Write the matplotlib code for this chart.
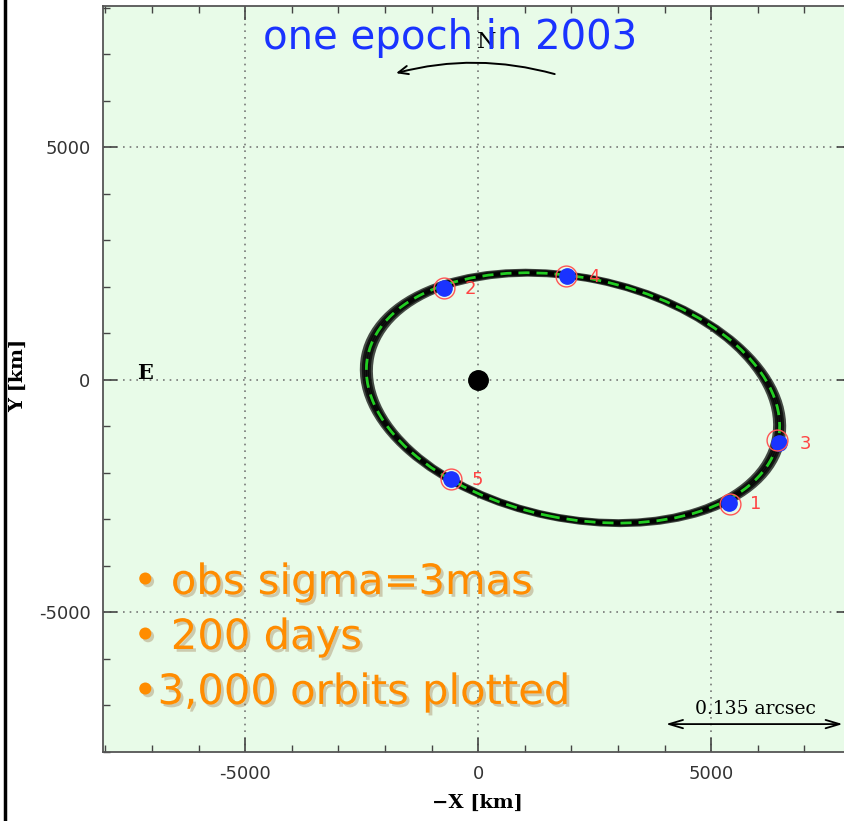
import matplotlib
matplotlib.use("Agg")
import matplotlib.pyplot as plt
import matplotlib.patheffects as pe
from matplotlib.patches import Ellipse, FancyArrowPatch
from matplotlib.lines import Line2D
from matplotlib.ticker import MultipleLocator

plt.rcParams["axes.unicode_minus"] = False

# ---------------------------------------------------------------------------
# Data
# ---------------------------------------------------------------------------
# best-fit relative orbit (km): centre, full axes, position angle (deg)
orbit_center = (2035, -387)
orbit_width = 8990
orbit_height = 5176
orbit_angle = -11.6

# spread of the 3,000 sampled orbits around the best fit (km)
spread_dw = [-180, -90, 0, 90, 180]
spread_dh = [-60, -30, 0, 30, 60]

# observed epochs (km)
epoch_ids = ["1", "2", "3", "4", "5"]
obs_x = [5386, -730, 6459, 1910, -579]
obs_y = [-2645, 1978, -1355, 2237, -2129]
fit_x = [5400, -735, 6416, 1895, -585]
fit_y = [-2660, 1985, -1290, 2245, -2140]

notes = ["\u2022 obs sigma=3mas", "\u2022 200 days", "\u20223,000 orbits plotted"]

BG = "#e8fbe8"
ORANGE = "#ff8c00"
BLUE = "#1a33ff"

fig = plt.figure(figsize=(8.45, 8.21), dpi=100)
ax = fig.add_axes([103 / 845, 69 / 821, 748 / 845, 746 / 821])
ax.set_facecolor(BG)
ax.set_xlim(-8050, 8000)
ax.set_ylim(-8000, 8040)

# ---------------------------------------------------------------------------
# Axes styling
# ---------------------------------------------------------------------------
for s in ax.spines.values():
    s.set_color("#555555")
    s.set_linewidth(1.3)
ax.xaxis.set_major_locator(MultipleLocator(5000))
ax.yaxis.set_major_locator(MultipleLocator(5000))
ax.xaxis.set_minor_locator(MultipleLocator(1000))
ax.yaxis.set_minor_locator(MultipleLocator(1000))
ax.tick_params(which="both", direction="in", top=True, right=True,
               colors="#444444", labelcolor="#333333", labelsize=13)
ax.tick_params(which="major", length=10, width=1.2, pad=9)
ax.tick_params(which="minor", length=5, width=1.0)
ax.grid(which="major", color="#777777", linestyle=(0, (1, 3)), linewidth=1.2)
ax.set_axisbelow(True)

ax.set_xlabel("\u2212X [km]", family="DejaVu Serif", fontweight="bold",
              fontsize=14, labelpad=8)
ax.set_ylabel("Y [km]", family="DejaVu Serif", fontweight="bold",
              fontsize=14)
ax.yaxis.set_label_coords(-0.102, 0.505)

# ---------------------------------------------------------------------------
# Orbit ensemble and best fit
# ---------------------------------------------------------------------------
for dw, dh in zip(spread_dw, spread_dh):
    ax.add_patch(Ellipse(orbit_center, orbit_width + dw, orbit_height + dh,
                         angle=orbit_angle, fill=False, edgecolor="black",
                         linewidth=3.5, alpha=0.7, zorder=3))
ax.add_patch(Ellipse(orbit_center, orbit_width, orbit_height,
                     angle=orbit_angle, fill=False, edgecolor="#22cc22",
                     linewidth=2.0, linestyle=(0, (4, 2.5)), zorder=4))

# primary
ax.plot([0], [0], "o", color="black", markersize=14, zorder=5)

# observations
ax.plot(obs_x, obs_y, "o", color=BLUE, markersize=11, zorder=6)
ax.plot(fit_x, fit_y, "o", markerfacecolor="none", markeredgecolor="#ff5555",
        markersize=15, markeredgewidth=1.0, zorder=7)
for lab, x, y in zip(epoch_ids, obs_x, obs_y):
    ax.annotate(lab, (x, y), xytext=(15, -1), textcoords="offset points",
                color="#ff4444", fontsize=13, va="center", zorder=8)

# ---------------------------------------------------------------------------
# Compass and scale
# ---------------------------------------------------------------------------
ax.text(190, 7270, "N", family="DejaVu Serif", fontsize=16, ha="center",
        va="center", zorder=8)
ax.text(-7150, 150, "E", family="DejaVu Serif", fontweight="bold",
        fontsize=15, ha="center", va="center", zorder=8)
ax.add_patch(FancyArrowPatch((1700, 6560), (-1820, 6580),
                             connectionstyle="arc3,rad=0.14",
                             arrowstyle="->,head_length=7,head_width=3",
                             color="black", linewidth=1.4, zorder=8))

ax.add_patch(FancyArrowPatch((3970, -7400), (7880, -7400),
                             arrowstyle="<->,head_length=10,head_width=3",
                             color="black", linewidth=1.3, zorder=8))
ax.text(5960, -7080, "0.135 arcsec", family="DejaVu Serif", fontsize=13.5,
        ha="center", va="center", zorder=8)

# ---------------------------------------------------------------------------
# Slide annotations
# ---------------------------------------------------------------------------
fig.text(450 / 845, 1 - 38 / 821, "one epoch in 2003", color=BLUE,
         fontsize=29, ha="center", va="center", zorder=10)
fig.text(380 / 845, 1 + 22 / 821, "approaches", color=BLUE,
         fontsize=29, ha="center", va="center", zorder=10)

shadow = [pe.SimplePatchShadow(offset=(2, -2), shadow_rgbFace="#8b5a2b",
                               alpha=0.3), pe.Normal()]
for i, line in enumerate(notes):
    fig.text(133 / 845, 1 - (582 + 55 * i) / 821, line, color=ORANGE,
             fontsize=30, ha="left", va="center", zorder=10,
             path_effects=shadow)

# slide border on the left
fig.add_artist(Line2D([5 / 845, 5 / 845], [0, 1], color="black",
                      linewidth=2.5, transform=fig.transFigure))

fig.savefig("out.png", dpi=100)
